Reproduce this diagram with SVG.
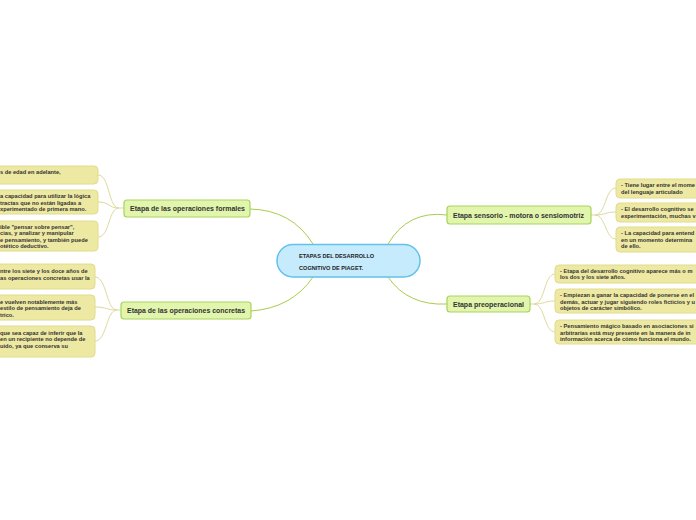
<svg xmlns="http://www.w3.org/2000/svg" width="696" height="520" viewBox="0 0 696 520">
<style>
.root{fill:#c6ebfc;stroke:#62c1ec;stroke-width:1.5}
.main{fill:#e1f5ad;stroke:#a9d35e;stroke-width:1.2}
.leaf{fill:#eee9a2;stroke:#e0dc8c;stroke-width:1}
.c1{fill:none;stroke:#a8cd48;stroke-width:1}
.c2{fill:none;stroke:#ddd99c;stroke-width:1}
.rt{font-family:"Liberation Sans",Arial,sans-serif;font-weight:bold;font-size:5.6px;fill:#222}
.mt{font-family:"Liberation Sans",Arial,sans-serif;font-weight:bold;font-size:6.4px;fill:#333}
.lt{font-family:"Liberation Sans",Arial,sans-serif;font-size:5.7px;fill:#333;font-weight:600}
</style>
<rect width="696" height="520" fill="#ffffff"/>
<g id="connectors">
<path class="c1" d="M250,209 Q292,210 313,244"/>
<path class="c1" d="M251,311 Q292,308 313,277"/>
<path class="c1" d="M447,215 Q408,210 388,244"/>
<path class="c1" d="M447,304 Q408,306 388,277"/>
<path class="c2" d="M124,208 L119,208 C108,208 110,175 98,175"/>
<path class="c2" d="M119,208 C108,208 110,202 98,202"/>
<path class="c2" d="M119,208 C108,208 110,237 98,237"/>
<path class="c2" d="M121,310 L117,310 C106,310 107,277 95,277"/>
<path class="c2" d="M117,310 C106,310 107,307 95,307"/>
<path class="c2" d="M117,310 C106,310 107,341 95,341"/>
<path class="c2" d="M591,215 L595,215 C606,215 605,188 616,188"/>
<path class="c2" d="M595,215 C606,215 605,212 616,212"/>
<path class="c2" d="M595,215 C606,215 605,239 616,239"/>
<path class="c2" d="M530,304 L534,304 C545,304 544,274 555,274"/>
<path class="c2" d="M534,304 C545,304 544,301 555,301"/>
<path class="c2" d="M534,304 C545,304 544,332 555,332"/>
</g>
<g id="root">
<rect class="root" x="277" y="244.5" width="143" height="32.5" rx="16"/>
<text class="rt" x="299" y="258">ETAPAS DEL DESARROLLO</text>
<text class="rt" x="299" y="269.5">COGNITIVO DE PIAGET.</text>
</g>
<g id="formales">
<rect class="main" x="124" y="200" width="126" height="17" rx="3"/>
<text class="mt" x="130" y="211.3" textLength="115" lengthAdjust="spacingAndGlyphs">Etapa de las operaciones formales</text>
</g>
<g id="concretas">
<rect class="main" x="121" y="302" width="130" height="17" rx="3"/>
<text class="mt" x="127" y="313.3" textLength="118" lengthAdjust="spacingAndGlyphs">Etapa de las operaciones concretas</text>
</g>
<g id="sensorio">
<rect class="main" x="447" y="206" width="144" height="18" rx="3"/>
<text class="mt" x="453" y="217.5" textLength="131" lengthAdjust="spacingAndGlyphs">Etapa sensorio - motora o sensiomotriz</text>
</g>
<g id="preoperacional">
<rect class="main" x="447" y="296" width="83" height="16" rx="3"/>
<text class="mt" x="453" y="306.5" textLength="71" lengthAdjust="spacingAndGlyphs">Etapa preoperacional</text>
</g>
<g id="formales-1">
<rect class="leaf" x="-10" y="166" width="108" height="18" rx="4"/>
<text class="lt" x="0" y="174">s de edad en adelante,</text>
</g>
<g id="formales-2">
<rect class="leaf" x="-10" y="190" width="108" height="24" rx="4"/>
<text class="lt" x="0" y="198">a capacidad para utilizar la lógica</text>
<text class="lt" x="0" y="204.5">tractas que no están ligadas a</text>
<text class="lt" x="0" y="211">xperimentado de primera mano.</text>
</g>
<g id="formales-3">
<rect class="leaf" x="-10" y="221" width="108" height="30" rx="4"/>
<text class="lt" x="0" y="228.5">ible "pensar sobre pensar",</text>
<text class="lt" x="0" y="235">cias, y analizar y manipular</text>
<text class="lt" x="0" y="241.5">e pensamiento, y también puede</text>
<text class="lt" x="0" y="248">otético deductivo.</text>
</g>
<g id="concretas-1">
<rect class="leaf" x="-10" y="264" width="105" height="25" rx="4"/>
<text class="lt" x="0" y="273">ntre los siete y los doce años de</text>
<text class="lt" x="0" y="279.5">as operaciones concretas usar la</text>
</g>
<g id="concretas-2">
<rect class="leaf" x="-10" y="295" width="105" height="25" rx="4"/>
<text class="lt" x="0" y="303.5">e vuelven notablemente más</text>
<text class="lt" x="0" y="310">estilo de pensamiento deja de</text>
<text class="lt" x="0" y="316.5">trico.</text>
</g>
<g id="concretas-3">
<rect class="leaf" x="-10" y="326" width="105" height="31" rx="4"/>
<text class="lt" x="0" y="334.5">que sea capaz de inferir que la</text>
<text class="lt" x="0" y="341">en un recipiente no depende de</text>
<text class="lt" x="0" y="347.5">uido, ya que conserva su</text>
</g>
<g id="sensorio-1">
<rect class="leaf" x="616" y="179" width="100" height="19" rx="4"/>
<text class="lt" x="621" y="187">- Tiene lugar entre el mome</text>
<text class="lt" x="621" y="193.5">del lenguaje articulado</text>
</g>
<g id="sensorio-2">
<rect class="leaf" x="616" y="203" width="100" height="19" rx="4"/>
<text class="lt" x="621" y="211">- El desarrollo cognitivo se</text>
<text class="lt" x="621" y="217.5">experimentación, muchas v</text>
</g>
<g id="sensorio-3">
<rect class="leaf" x="616" y="227" width="100" height="25" rx="4"/>
<text class="lt" x="621" y="235">- La capacidad para entend</text>
<text class="lt" x="621" y="241.5">en un momento determina</text>
<text class="lt" x="621" y="248">de ello.</text>
</g>
<g id="preop-1">
<rect class="leaf" x="555" y="265" width="160" height="18" rx="4"/>
<text class="lt" x="560" y="272.5">- Etapa del desarrollo cognitivo aparece más o m</text>
<text class="lt" x="560" y="279">los dos y los siete años.</text>
</g>
<g id="preop-2">
<rect class="leaf" x="555" y="289" width="160" height="24" rx="4"/>
<text class="lt" x="560" y="297">- Empiezan a ganar la capacidad de ponerse en el</text>
<text class="lt" x="560" y="303.5">demás, actuar y jugar siguiendo roles ficticios y u</text>
<text class="lt" x="560" y="310">objetos de carácter simbólico.</text>
</g>
<g id="preop-3">
<rect class="leaf" x="555" y="320" width="160" height="24" rx="4"/>
<text class="lt" x="560" y="328">- Pensamiento mágico basado en asociaciones si</text>
<text class="lt" x="560" y="334.5">arbitrarias está muy presente en la manera de in</text>
<text class="lt" x="560" y="341">información acerca de cómo funciona el mundo.</text>
</g>
</svg>
